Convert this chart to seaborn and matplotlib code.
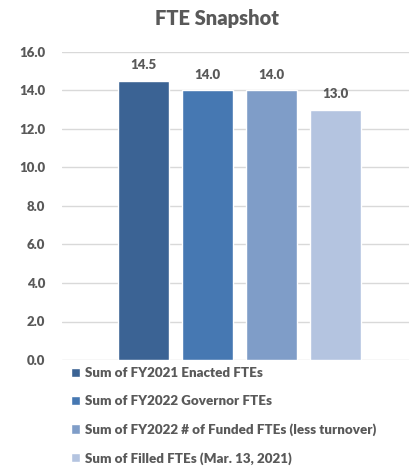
import matplotlib
matplotlib.use("Agg")
import matplotlib.pyplot as plt
import seaborn as sns
import pandas as pd

series = [
    "Sum of FY2021 Enacted FTEs",
    "Sum of FY2022 Governor FTEs",
    "Sum of FY2022 # of Funded FTEs (less turnover)",
    "Sum of Filled FTEs (Mar. 13, 2021)",
]
values = [14.5, 14.0, 14.0, 13.0]
colors = ["#3B6394", "#4678B2", "#7F9DC8", "#B4C4E0"]
yticks = [0, 2, 4, 6, 8, 10, 12, 14, 16]

sns.set_theme(style="white")
plt.rcParams["font.family"] = ["Lato", "DejaVu Sans"]
plt.rcParams["font.weight"] = "bold"

text_color = "#595959"
grid_color = "#D9D9D9"

df = pd.DataFrame({"series": series, "value": values})

fig = plt.figure(figsize=(4.10, 4.66), dpi=100)
ax = fig.add_axes([62 / 410, 1 - 360 / 466, (410 - 62) / 410, (360 - 52) / 466])

sns.barplot(data=df, x="series", y="value", hue="series", palette=colors,
            order=series, hue_order=series, dodge=False, width=0.8,
            saturation=1, ax=ax, legend=True)

ax.set_ylim(0, 16)
ax.set_xlim(-1.273, 4.164)
ax.set_yticks(yticks)
ax.set_yticklabels([f"{v:.1f}" for v in yticks], fontsize=9.5, fontweight="heavy",
                   color=text_color)
ax.tick_params(axis="y", length=0, pad=12)
ax.set_xticks([])
ax.set_xlabel("")
ax.set_ylabel("")
ax.grid(axis="y", color=grid_color, linewidth=1)
ax.set_axisbelow(True)
for s in ax.spines.values():
    s.set_visible(False)

for container in ax.containers:
    ax.bar_label(container, fmt="%.1f", padding=7, fontsize=9.5,
                 fontweight="heavy", color=text_color)

sns.move_legend(ax, "upper left", bbox_to_anchor=(71 / 410, 1 - 367 / 466),
                bbox_transform=fig.transFigure, frameon=False, title=None,
                handlelength=0.7, handleheight=0.7, handletextpad=0.35,
                labelspacing=1.2, borderaxespad=0, borderpad=0,
                fontsize=9.6)
leg = ax.get_legend()
for t in leg.get_texts():
    t.set_color(text_color)
    t.set_fontweight("heavy")

fig.text(0.53, 1 - 18 / 466, "FTE Snapshot", ha="center", va="center",
         fontsize=14.5, fontweight="heavy", color=text_color)

fig.savefig("out.png", dpi=100, facecolor="white")
